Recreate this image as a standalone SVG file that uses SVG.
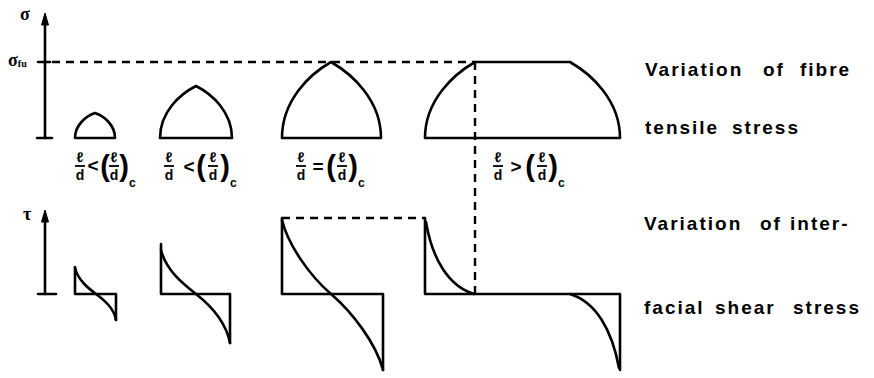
<svg xmlns="http://www.w3.org/2000/svg" width="874" height="378" viewBox="0 0 874 378">
<style>
.ln{fill:none;stroke:#000;stroke-width:2.6;stroke-linejoin:round;stroke-linecap:round}
.dash{fill:none;stroke:#000;stroke-width:2.4;stroke-dasharray:8 6}
.head{fill:#000;stroke:#000;stroke-width:1;stroke-linejoin:round}
.cap{font-family:"Liberation Sans",Arial,sans-serif;font-weight:bold;font-size:19px;letter-spacing:2px;fill:#000}
.sym{font-family:"Liberation Serif","Times New Roman",serif;font-weight:bold;font-size:18px;fill:#000}
.fr{font-family:"Liberation Sans",Arial,sans-serif;font-weight:bold;font-size:14px;fill:#000;text-anchor:middle}
.op{font-family:"Liberation Sans",Arial,sans-serif;font-weight:bold;font-size:19px;fill:#000;text-anchor:middle}
.par{font-family:"Liberation Sans",Arial,sans-serif;font-weight:bold;font-size:29px;fill:#000;text-anchor:middle}
.sub{font-family:"Liberation Sans",Arial,sans-serif;font-weight:bold;font-size:12px;fill:#000}
.bar{stroke:#000;stroke-width:1.8}
</style>
<rect width="874" height="378" fill="#fff"/>

<g id="sigma-axis">
<line class="ln" x1="45" y1="138" x2="45" y2="22"/>
<polygon class="head" points="45,13 41.5,25 48.5,25"/>
<line class="ln" x1="37" y1="138" x2="52" y2="138"/>
<line class="ln" x1="38" y1="62" x2="50" y2="62"/>
<text class="sym" x="20" y="20">σ</text>
<text class="sym" x="8" y="66">σ<tspan font-size="10" dy="1">fu</tspan></text>
</g>

<g id="tau-axis">
<line class="ln" x1="45" y1="294" x2="45" y2="220"/>
<polygon class="head" points="45,210 41.5,222 48.5,222"/>
<line class="ln" x1="38" y1="294" x2="56" y2="294"/>
<text class="sym" x="23" y="220">τ</text>
</g>

<g id="connectors">
<line class="dash" x1="52" y1="62" x2="475" y2="62"/>
<line class="dash" x1="475" y1="62" x2="475" y2="294"/>
<line class="dash" x1="282" y1="218" x2="425" y2="218"/>
</g>

<g id="arch1">
<path class="ln" d="M75,138 C75,125 86,116 95,113 C104,116 115,125 115,138 Z"/>
</g>
<g id="arch2">
<path class="ln" d="M160,138 C160,112 180,94 196,86 C212,94 232,112 232,138 Z"/>
</g>
<g id="arch3">
<path class="ln" d="M282,138 C282,100 310,74 331,62 C352,74 381,100 381,138 Z"/>
</g>
<g id="arch4">
<path class="ln" d="M425,138 C425,100 454,74 475,62 L570,62 C591,74 620,100 620,138 Z"/>
</g>

<g id="label1">
<text class="fr" x="80" y="162">ℓ</text><line class="bar" x1="75" y1="166" x2="85" y2="166"/><text class="fr" x="80" y="180">d</text>
<text class="op" x="93" y="172" font-size="16">&lt;</text>
<text class="par" x="105" y="176">(</text>
<text class="fr" x="114" y="162">ℓ</text><line class="bar" x1="109" y1="166" x2="119" y2="166"/><text class="fr" x="114" y="180">d</text>
<text class="par" x="124" y="176">)</text>
<text class="sub" x="129" y="187">c</text>
</g>
<g id="label2">
<text class="fr" x="169" y="162">ℓ</text><line class="bar" x1="164" y1="166" x2="174" y2="166"/><text class="fr" x="169" y="180">d</text>
<text class="op" x="189" y="173">&lt;</text>
<text class="par" x="201" y="176">(</text>
<text class="fr" x="213" y="162">ℓ</text><line class="bar" x1="208" y1="166" x2="218" y2="166"/><text class="fr" x="213" y="180">d</text>
<text class="par" x="225" y="176">)</text>
<text class="sub" x="230" y="187">c</text>
</g>
<g id="label3">
<text class="fr" x="301" y="162">ℓ</text><line class="bar" x1="296" y1="166" x2="306" y2="166"/><text class="fr" x="301" y="180">d</text>
<text class="op" x="318" y="173">=</text>
<text class="par" x="331" y="176">(</text>
<text class="fr" x="342" y="162">ℓ</text><line class="bar" x1="337" y1="166" x2="347" y2="166"/><text class="fr" x="342" y="180">d</text>
<text class="par" x="353" y="176">)</text>
<text class="sub" x="358" y="187">c</text>
</g>
<g id="label4">
<text class="fr" x="498" y="162">ℓ</text><line class="bar" x1="493" y1="166" x2="503" y2="166"/><text class="fr" x="498" y="180">d</text>
<text class="op" x="516" y="173">&gt;</text>
<text class="par" x="530" y="176">(</text>
<text class="fr" x="542" y="162">ℓ</text><line class="bar" x1="537" y1="166" x2="547" y2="166"/><text class="fr" x="542" y="180">d</text>
<text class="par" x="553" y="176">)</text>
<text class="sub" x="558" y="187">c</text>
</g>

<g id="shear1">
<path class="ln" d="M75,267 L75,294 L116,294 L116,320"/>
<path class="ln" d="M75,268 C78,280 88,288 96,294 C104,300 114,308 116,320"/>
</g>
<g id="shear2">
<path class="ln" d="M161,244 L161,294 L230,294 L230,343"/>
<path class="ln" d="M161,250 C166,270 182,283 196,294 C210,305 226,322 230,343"/>
</g>
<g id="shear3">
<path class="ln" d="M282,218 L282,294 L383,294 L383,370"/>
<path class="ln" d="M282,220 C288,245 310,276 331,294 C352,312 376,343 383,370"/>
</g>
<g id="shear4">
<path class="ln" d="M425,218 L425,294 L620,294 L620,370"/>
<path class="ln" d="M426,222 C432,258 448,286 474,294"/>
<path class="ln" d="M570,294 C596,302 612,330 619,368"/>
</g>

<g id="caption-fibre">
<text class="cap" y="76"><tspan x="645">Variation</tspan> <tspan x="763">of</tspan> <tspan x="800">fibre</tspan></text>
<text class="cap" y="134"><tspan x="645">tensile</tspan> <tspan x="732">stress</tspan></text>
</g>
<g id="caption-shear">
<text class="cap" y="230"><tspan x="644">Variation</tspan> <tspan x="760">of</tspan> <tspan x="790">inter-</tspan></text>
<text class="cap" y="314"><tspan x="644">facial</tspan> <tspan x="715">shear</tspan> <tspan x="793">stress</tspan></text>
</g>
</svg>
